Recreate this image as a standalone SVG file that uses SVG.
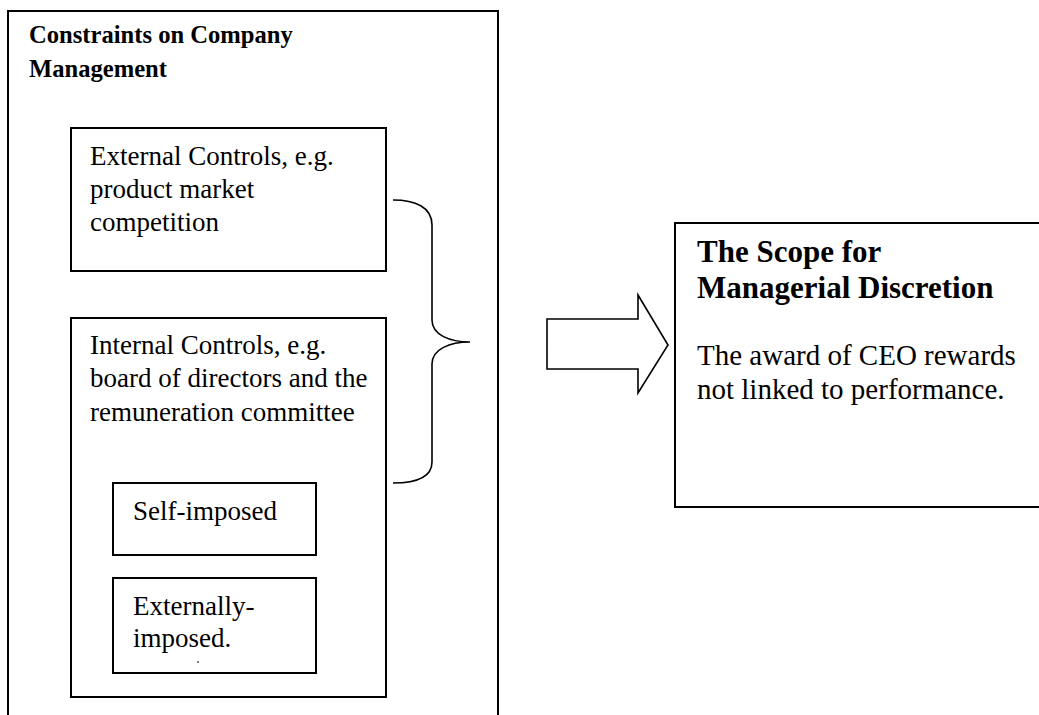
<svg xmlns="http://www.w3.org/2000/svg" width="1039" height="715" viewBox="0 0 1039 715">
<style>
.box{fill:#fff;stroke:#000;stroke-width:2}
.line{fill:none;stroke:#000;stroke-width:1.6}
.t{font-family:"Liberation Serif","Times New Roman",serif;fill:#000}
.b{font-weight:bold}
</style>
<rect x="0" y="0" width="1039" height="715" fill="#fff"/>
<g id="constraints">
<rect class="box" x="8" y="11" width="490" height="720"/>
<text class="t b" x="29" y="43" font-size="24.6">Constraints on Company</text>
<text class="t b" x="29" y="77" font-size="24.6">Management</text>
</g>
<g id="external-controls">
<rect class="box" x="71" y="128" width="315" height="143"/>
<text class="t" font-size="27"><tspan x="90" y="165">External Controls, e.g.</tspan><tspan x="90" y="198">product market</tspan><tspan x="90" y="231">competition</tspan></text>
</g>
<g id="internal-controls">
<rect class="box" x="71" y="318" width="315" height="379"/>
<text class="t" font-size="27"><tspan x="90" y="354">Internal Controls, e.g.</tspan><tspan x="90" y="387">board of directors and the</tspan><tspan x="90" y="421">remuneration committee</tspan></text>
</g>
<g id="self-imposed">
<rect class="box" x="113" y="483" width="203" height="72"/>
<text class="t" x="133" y="520" font-size="27">Self-imposed</text>
</g>
<g id="externally-imposed">
<rect class="box" x="113" y="578" width="203" height="95"/>
<text class="t" font-size="27"><tspan x="133" y="615">Externally-</tspan><tspan x="133" y="647">imposed.</tspan></text>
<line x1="197" y1="662" x2="199" y2="662" stroke="#000" stroke-width="1"/>
</g>
<g id="scope">
<rect class="box" x="675" y="223" width="400" height="284"/>
<text class="t b" font-size="31"><tspan x="697" y="262">The Scope for</tspan><tspan x="697" y="298">Managerial Discretion</tspan></text>
<text class="t" font-size="29"><tspan x="697" y="365">The award of CEO rewards</tspan><tspan x="697" y="399">not linked to performance.</tspan></text>
</g>
<g id="connectors">
<path class="line" d="M393,200 C415,200 432,207 432,225 V320 C432,335 450,342 470,342 C450,342 432,349 432,364 V462 C432,478 415,483 393,483"/>
<polygon class="line" points="547,319 638,319 638,295 668,345 638,393 638,369 547,369"/>
</g>
</svg>
